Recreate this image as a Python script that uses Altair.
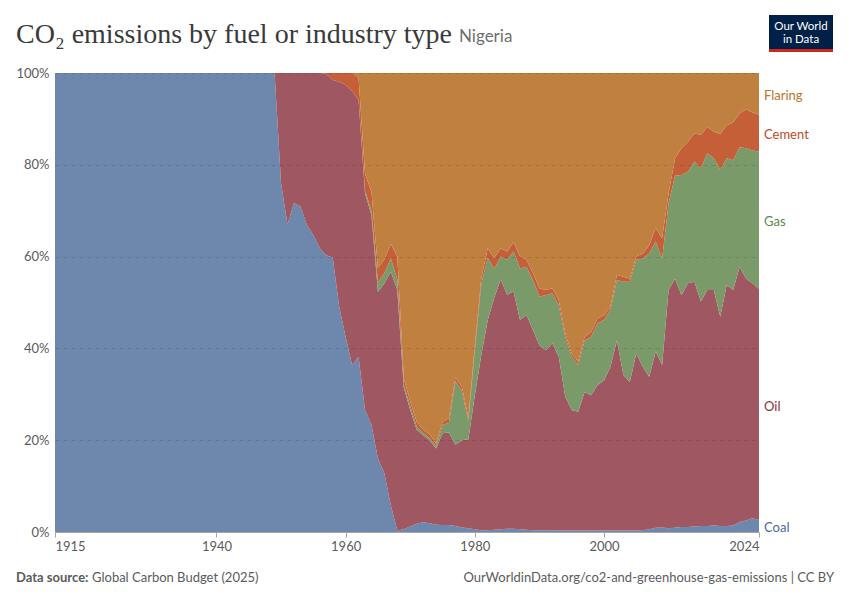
import altair as alt
import pandas as pd

years = list(range(1915, 2025))

coal = [
    100.0, 100.0, 100.0, 100.0, 100.0, 100.0, 100.0, 100.0, 100.0, 100.0,
    100.0, 100.0, 100.0, 100.0, 100.0, 100.0, 100.0, 100.0, 100.0, 100.0,
    100.0, 100.0, 100.0, 100.0, 100.0, 100.0, 100.0, 100.0, 100.0, 100.0,
    100.0, 100.0, 100.0, 100.0, 100.0, 76.0, 67.0, 71.7, 70.9, 66.9,
    64.7, 61.8, 60.3, 59.8, 49.1, 42.5, 36.4, 38.2, 26.6, 23.3,
    16.0, 12.8, 5.8, 0.3, 0.6, 1.2, 1.8, 2.1, 1.9, 1.6,
    1.5, 1.5, 1.3, 1.0, 0.8, 0.6, 0.4, 0.4, 0.5, 0.6,
    0.7, 0.7, 0.6, 0.5, 0.4, 0.4, 0.4, 0.4, 0.3, 0.3,
    0.3, 0.3, 0.3, 0.3, 0.3, 0.3, 0.3, 0.3, 0.3, 0.3,
    0.3, 0.4, 0.6, 0.9, 1.0, 0.8, 0.9, 1.1, 1.1, 1.2,
    1.3, 1.3, 1.4, 1.3, 1.3, 1.4, 2.2, 2.5, 3.0, 2.6,
]
oil = [
    0, 0, 0, 0, 0, 0, 0, 0, 0, 0,
    0, 0, 0, 0, 0, 0, 0, 0, 0, 0,
    0, 0, 0, 0, 0, 0, 0, 0, 0, 0,
    0, 0, 0, 0, 0, 24.0, 33.0, 28.3, 29.1, 33.1,
    35.3, 38.2, 39.5, 38.7, 49.0, 54.9, 59.6, 55.9, 47.2, 45.7,
    36.3, 41.4, 50.9, 52.4, 30.8, 25.4, 20.5, 19.0, 18.1, 16.6,
    20.0, 20.2, 17.7, 19.0, 19.4, 29.2, 38.1, 45.8, 50.5, 54.4,
    51.0, 51.7, 45.6, 46.8, 43.6, 40.3, 39.2, 40.7, 37.9, 29.2,
    26.3, 25.9, 30.2, 29.5, 31.7, 32.7, 35.7, 41.5, 33.9, 32.4,
    38.6, 35.6, 33.2, 38.4, 35.4, 51.9, 54.3, 50.5, 53.1, 53.3,
    48.9, 51.4, 51.3, 45.6, 52.5, 51.3, 55.6, 52.7, 51.2, 50.3,
]
gas = [
    0, 0, 0, 0, 0, 0, 0, 0, 0, 0,
    0, 0, 0, 0, 0, 0, 0, 0, 0, 0,
    0, 0, 0, 0, 0, 0, 0, 0, 0, 0,
    0, 0, 0, 0, 0, 0, 0, 0, 0, 0,
    0, 0, 0, 0, 0, 0, 0, 0, 0.6, 1.0,
    2.1, 2.2, 2.9, 2.3, 0.7, 0.8, 0.7, 0.5, 0.5, 0.5,
    1.8, 2.1, 13.9, 10.8, 4.0, 9.7, 15.5, 13.6, 6.3, 5.0,
    7.6, 8.7, 11.2, 10.5, 10.9, 10.6, 12.0, 10.9, 11.2, 13.0,
    11.6, 10.2, 11.3, 12.7, 13.5, 13.2, 12.4, 13.1, 20.3, 21.8,
    20.4, 23.6, 26.9, 24.0, 23.2, 18.9, 22.4, 26.2, 24.3, 26.2,
    29.0, 29.8, 28.7, 32.0, 27.6, 28.3, 26.0, 28.4, 28.9, 30.0,
]
cement = [
    0, 0, 0, 0, 0, 0, 0, 0, 0, 0,
    0, 0, 0, 0, 0, 0, 0, 0, 0, 0,
    0, 0, 0, 0, 0, 0, 0, 0, 0, 0,
    0, 0, 0, 0, 0, 0, 0, 0, 0, 0,
    0, 0, 0.2, 1.5, 1.9, 2.6, 4.0, 4.9, 3.7, 4.0,
    3.1, 3.0, 3.2, 5.0, 1.4, 1.1, 1.0, 0.7, 0.8, 0.5,
    0.7, 1.0, 0.8, 0.8, 0.7, 1.0, 1.3, 2.0, 2.4, 1.8,
    1.8, 2.0, 2.6, 1.5, 1.5, 1.8, 1.1, 1.1, 1.1, 0.8,
    0.7, 0.7, 0.7, 1.1, 1.0, 1.0, 0.7, 1.1, 1.1, 0.7,
    0.7, 1.1, 1.8, 2.9, 4.4, 2.2, 3.8, 5.8, 6.5, 6.2,
    7.3, 5.8, 5.8, 7.8, 7.2, 8.2, 7.4, 8.5, 8.3, 8.0,
]
flaring = [
    0, 0, 0, 0, 0, 0, 0, 0, 0, 0,
    0, 0, 0, 0, 0, 0, 0, 0, 0, 0,
    0, 0, 0, 0, 0, 0, 0, 0, 0, 0,
    0, 0, 0, 0, 0, 0, 0, 0, 0, 0,
    0, 0, 0, 0, 0, 0, 0, 1.0, 21.9, 26.0,
    42.5, 40.6, 37.2, 40.0, 66.5, 71.5, 76.0, 77.7, 78.7, 80.8,
    76.0, 75.2, 66.3, 68.4, 75.1, 59.5, 44.7, 38.2, 40.3, 38.2,
    38.9, 36.9, 40.0, 40.7, 43.6, 46.9, 47.3, 46.9, 49.5, 56.7,
    61.1, 62.9, 57.5, 56.4, 53.5, 52.8, 50.9, 44.0, 44.4, 44.8,
    40.0, 39.3, 37.5, 33.8, 36.0, 26.2, 18.6, 16.4, 15.0, 13.1,
    13.5, 11.7, 12.8, 13.3, 11.4, 10.8, 8.8, 7.9, 8.6, 9.1,
]

fuels = ["Coal", "Oil", "Gas", "Cement", "Flaring"]
area_colors = ["#6e87ad", "#9f5761", "#7a9a6a", "#c45f38", "#c08040"]
label_colors = ["#4a68a3", "#8a3140", "#5a8a4b", "#bd4a26", "#b8762c"]

x_ticks = [1915, 1940, 1960, 1980, 2000, 2024]
y_ticks = [0, 20, 40, 60, 80, 100]

title_text = "CO₂ emissions by fuel or industry type"
subtitle_text = "Nigeria"
source_bold = "Data source:"
source_text = "Global Carbon Budget (2025)"
url_text = "OurWorldinData.org/co2-and-greenhouse-gas-emissions | CC BY"
logo_lines = ["Our World", "in Data"]

series = [coal, oil, gas, cement, flaring]
rows = []
for k, (fuel, vals) in enumerate(zip(fuels, series)):
    for yr, v in zip(years, vals):
        rows.append({"year": yr, "fuel": fuel, "share": v, "order": k})
df = pd.DataFrame(rows)

# label positions: middle of each band in the last year
cum = 0.0
mids = []
for vals in series:
    mids.append(cum + vals[-1] / 2)
    cum += vals[-1]
lab_df = pd.DataFrame({"lab": fuels, "mid": mids})

W, H = 704, 459
FONT = "Lato"

area = alt.Chart(df).mark_area(interpolate="linear").encode(
    x=alt.X(
        "year:Q",
        scale=alt.Scale(domain=[1915, 2024], nice=False, zero=False),
        axis=alt.Axis(
            values=x_ticks, format="d", title=None, labelFlush=True, grid=False,
            domainColor="#a6a6a6", tickColor="#a6a6a6", tickSize=5,
            labelColor="#5b5b5b", labelFont=FONT, labelFontSize=13,
            labelPadding=3, zindex=1,
        ),
    ),
    y=alt.Y(
        "share:Q",
        stack="zero",
        scale=alt.Scale(domain=[0, 100], nice=False),
        axis=alt.Axis(
            values=y_ticks, labelExpr="datum.value + '%'", title=None,
            domain=False, ticks=False, gridDash=[4, 4], gridColor="#000000",
            gridOpacity=0.12, labelPadding=6, labelColor="#5b5b5b",
            labelFont=FONT, labelFontSize=13, zindex=1,
        ),
    ),
    color=alt.Color("fuel:N", scale=alt.Scale(domain=fuels, range=area_colors), legend=None),
    order=alt.Order("order:Q", sort="ascending"),
)

labels = alt.Chart(lab_df).mark_text(
    align="left", baseline="middle", font=FONT, fontSize=13, dy=2
).encode(
    x=alt.value(709),
    y=alt.Y("mid:Q"),
    text="lab:N",
    color=alt.Color("lab:N", scale=alt.Scale(domain=fuels, range=label_colors), legend=None),
)

one = pd.DataFrame({"title": [title_text], "sub": [subtitle_text],
                    "sb": [source_bold], "st": [source_text], "url": [url_text],
                    "l1": [logo_lines[0]], "l2": [logo_lines[1]]})

title = alt.Chart(one).mark_text(
    align="left", baseline="alphabetic", font="Liberation Serif", fontSize=28, color="#3a3a3a"
).encode(x=alt.value(-39), y=alt.value(-30), text="title:N")

subtitle = alt.Chart(one).mark_text(
    align="left", baseline="alphabetic", font=FONT, fontSize=17, color="#6e6e6e"
).encode(x=alt.value(404), y=alt.value(-31), text="sub:N")

src_b = alt.Chart(one).mark_text(
    align="left", baseline="alphabetic", font=FONT, fontSize=13, fontWeight="bold", color="#5b5b5b"
).encode(x=alt.value(-39), y=alt.value(509), text="sb:N")

src_t = alt.Chart(one).mark_text(
    align="left", baseline="alphabetic", font=FONT, fontSize=13, color="#5b5b5b"
).encode(x=alt.value(37), y=alt.value(509), text="st:N")

url = alt.Chart(one).mark_text(
    align="right", baseline="alphabetic", font=FONT, fontSize=13, color="#5b5b5b"
).encode(x=alt.value(779), y=alt.value(509), text="url:N")

logo_box = alt.Chart(one).mark_rect(color="#002147").encode(
    x=alt.value(714), x2=alt.value(778), y=alt.value(-58), y2=alt.value(-22)
)
logo_bar = alt.Chart(one).mark_rect(color="#ce261e").encode(
    x=alt.value(714), x2=alt.value(778), y=alt.value(-24), y2=alt.value(-21)
)
logo_t1 = alt.Chart(one).mark_text(
    align="center", baseline="middle", font=FONT, fontSize=11.5, color="#ffffff"
).encode(x=alt.value(746), y=alt.value(-46), text="l1:N")
logo_t2 = alt.Chart(one).mark_text(
    align="center", baseline="middle", font=FONT, fontSize=11.5, color="#ffffff"
).encode(x=alt.value(746), y=alt.value(-33), text="l2:N")

chart = alt.layer(
    area, labels, title, subtitle, src_b, src_t, url, logo_box, logo_bar, logo_t1, logo_t2
).resolve_scale(color="independent").properties(
    width=W, height=H,
    padding={"left": 47, "top": 65, "right": 83, "bottom": 60},
    autosize=alt.AutoSizeParams(type="none"),
    background="#ffffff",
).configure_view(stroke="transparent")

chart.save("out.html", embed_options={"renderer": "svg", "actions": False})
